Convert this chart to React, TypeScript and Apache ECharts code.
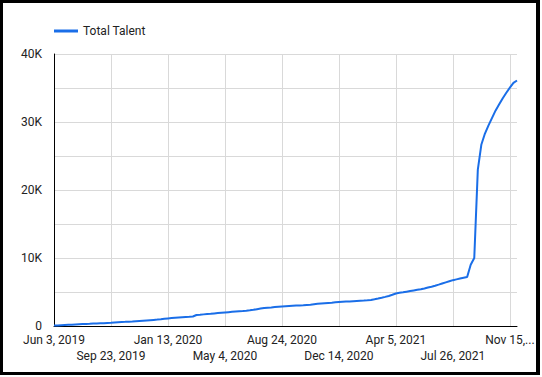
import React, { useEffect, useRef } from "react";
import * as echarts from "echarts";

const seriesName = "Total Talent";
const startYear = 2019;
const startMonth = 5; // June (0-based)
const startDay = 3;
const weekCount = 131;
const monthNames = ["Jan", "Feb", "Mar", "Apr", "May", "Jun", "Jul", "Aug", "Sep", "Oct", "Nov", "Dec"];

const totalTalent = [
  60, 90, 120, 150, 180, 200, 230, 260, 290, 310,
  330, 360, 380, 400, 420, 450, 480, 520, 560, 590,
  610, 640, 660, 700, 740, 780, 820, 860, 900, 940,
  990, 1060, 1120, 1170, 1220, 1260, 1300, 1330, 1360, 1400,
  1620, 1660, 1710, 1760, 1800, 1850, 1900, 1950, 2000, 2040,
  2080, 2120, 2160, 2200, 2250, 2310, 2380, 2470, 2560, 2640,
  2690, 2730, 2780, 2830, 2880, 2910, 2940, 2970, 3000, 3030,
  3060, 3100, 3140, 3200, 3260, 3310, 3350, 3390, 3430, 3480,
  3530, 3560, 3590, 3620, 3650, 3680, 3710, 3740, 3780, 3830,
  3920, 4030, 4150, 4280, 4420, 4590, 4780, 4880, 4960, 5050,
  5140, 5230, 5320, 5400, 5520, 5650, 5780, 5920, 6080, 6250,
  6420, 6580, 6740, 6860, 6980, 7090, 7200, 9000, 10000, 23000,
  26700, 28300, 29500, 30600, 31700, 32600, 33500, 34300, 35050, 35750,
  36100,
];

const yTickLabels: Record<number, string> = { 0: "0", 10000: "10K", 20000: "20K", 30000: "30K", 40000: "40K" };

const weekLabels: string[] = [];
for (let i = 0; i < weekCount; i++) {
  const d = new Date(Date.UTC(startYear, startMonth, startDay + i * 7));
  weekLabels.push(`${monthNames[d.getUTCMonth()]} ${d.getUTCDate()}, ${d.getUTCFullYear()}`);
}

const labelStep = 16;

const fmt = (value: string, index: number) => {
  if (index + labelStep > weekCount - 1) {
    return value.split(" ").slice(0, 2).join(" ") + "...";
  }
  return value;
};

export default function App() {
  const ref = useRef<HTMLDivElement>(null);
  useEffect(() => {
    if (!ref.current) return;
    const chart = echarts.init(ref.current, null, { renderer: "svg" });
    const font = "Roboto";
    const labelBase = { fontFamily: font, fontSize: 12, color: "#222", formatter: fmt };
    chart.setOption({
      animation: false,
      textStyle: { fontFamily: font },
      legend: {
        left: 54,
        top: 25,
        padding: 0,
        icon: "rect",
        itemWidth: 24,
        itemHeight: 3,
        textStyle: { fontFamily: font, fontSize: 12, color: "#222" },
        data: [seriesName],
      },
      grid: { left: 54, right: 25, top: 54, bottom: 51, containLabel: false },
      xAxis: [
        {
          type: "category",
          data: weekLabels,
          boundaryGap: false,
          axisLine: { show: true, lineStyle: { color: "#000", width: 1 } },
          axisTick: { show: false },
          splitLine: { show: true, interval: labelStep - 1, lineStyle: { color: "#d9d9d9", width: 1 } },
          axisLabel: {
            ...labelBase,
            interval: labelStep * 2 - 1,
            margin: 8,
          },
        },
        {
          type: "category",
          data: weekLabels,
          boundaryGap: false,
          position: "bottom",
          axisLine: { show: false },
          axisTick: { show: false },
          splitLine: { show: false },
          axisLabel: {
            ...labelBase,
            interval: (index: number) => index % (labelStep * 2) === labelStep,
            margin: 24,
          },
        },
      ],
      yAxis: {
        type: "value",
        min: 0,
        max: 40000,
        interval: 5000,
        axisLine: { show: true, lineStyle: { color: "#000", width: 1 } },
        axisTick: { show: false },
        splitLine: { show: true, lineStyle: { color: "#d9d9d9", width: 1 } },
        axisLabel: {
          margin: 12,
          fontFamily: font,
          fontSize: 12,
          color: "#222",
          formatter: (v: number) => yTickLabels[v] ?? "",
        },
      },
      series: [
        {
          name: seriesName,
          type: "line",
          xAxisIndex: 0,
          data: totalTalent,
          showSymbol: false,
          symbol: "none",
          lineStyle: { color: "#1a6ee8", width: 2 },
          itemStyle: { color: "#1a6ee8" },
        },
      ],
    });
    return () => chart.dispose();
  }, []);

  return (
    <div style={{ position: "fixed", left: 0, top: 0, width: 542, height: 377, background: "#fff" }}>
      <div ref={ref} style={{ position: "absolute", left: 0, top: 0, width: 542, height: 377 }} />
      <div
        style={{
          position: "absolute",
          left: 0,
          top: 0,
          width: 540,
          height: 375,
          boxSizing: "border-box",
          border: "3px solid #000",
          borderRightWidth: 4,
          pointerEvents: "none",
        }}
      />
    </div>
  );
}
